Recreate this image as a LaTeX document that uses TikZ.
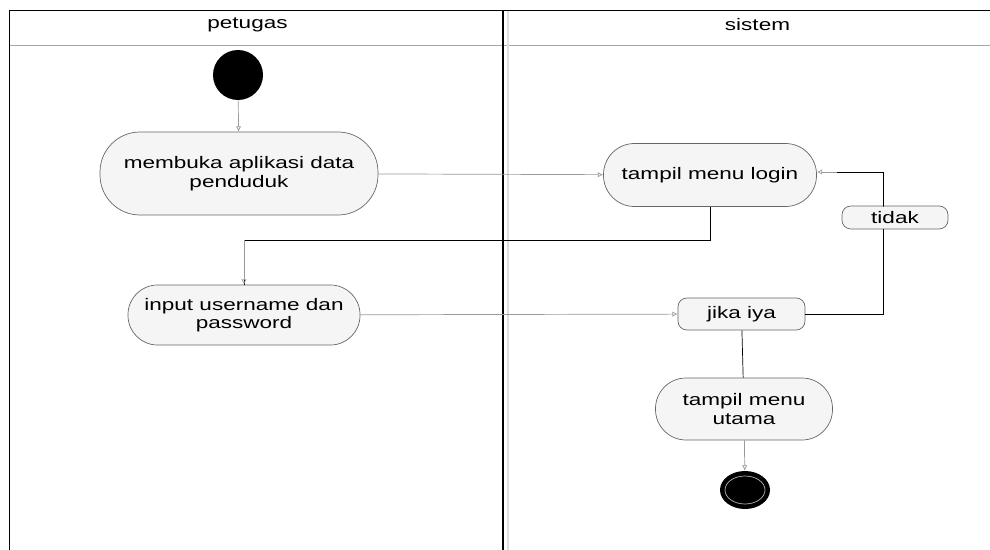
\documentclass[tikz,border=0pt]{standalone}
\usepackage{fontspec}
\setmainfont[FakeStretch=1.35]{Liberation Sans}
\usetikzlibrary{arrows.meta,shapes.geometric}

\begin{document}
\begin{tikzpicture}[font=\fontsize{9.5}{10.5}\selectfont,
        act/.style={draw=gray!80!black, fill=gray!8, align=center,
                        inner sep=2pt},
        dec/.style={draw=gray!80!black, fill=gray!8, rounded corners=5pt,
                        inner sep=0pt},
        ar/.style={draw=gray!80, -{Latex[length=3pt,width=3pt,open]}}]
    \useasboundingbox (0,0) rectangle (19.8,-11);
    % swimlanes
    \draw[gray!70] (0.18,-0.9) -- (19.8,-0.9);
    \draw[black] (0.18,-11) -- (0.18,-0.2) -- (19.8,-0.2);
    \draw[gray!25, line width=1pt] (10.16,-0.22) -- (10.16,-11);
    \draw[black, line width=1.3pt] (10.06,-0.2) -- (10.06,-11);
    \node (lp) at (4.95,-0.5) {petugas};
    \node (ls) at (15.15,-0.5) {sistem};

    % nodes
    \node[circle, fill=black, minimum size=1cm] (start) at (4.76,-1.5) {};
    \node[act, rounded corners=0.8cm, minimum width=5.56cm, minimum height=1.66cm]
        (buka) at (4.78,-3.47) {membuka aplikasi data\\penduduk};
    \node[act, rounded corners=0.62cm, minimum width=4.26cm, minimum height=1.26cm]
        (login) at (14.2,-3.5) {tampil menu login};
    \node[act, rounded corners=0.59cm, minimum width=4.64cm, minimum height=1.2cm]
        (input) at (4.88,-6.3) {input username dan\\password};
    \node[dec, minimum width=2.54cm, minimum height=0.64cm]
        (jika) at (14.83,-6.28) {jika iya};
    \node[dec, minimum width=2.12cm, minimum height=0.46cm]
        (tidak) at (17.9,-4.35) {tidak};
    \node[act, rounded corners=0.61cm, minimum width=3.54cm, minimum height=1.24cm]
        (utama) at (14.88,-8.18) {tampil menu\\utama};
    \node[ellipse, fill=black, minimum width=1cm, minimum height=0.76cm]
        (stop) at (14.9,-9.8) {};
    \node[ellipse, draw=gray!60, minimum width=0.8cm, minimum height=0.56cm]
        (stopin) at (stop) {};

    % flows
    \draw[ar] (start) -- (buka);
    \draw[ar] (buka) -- (login);
    \draw[black] (login.south) -- ++(0,-0.66) coordinate (k1) -| (input.north);
    \draw[ar] (k1 -| input.north) -- (input.north);
    \draw[ar] (input) -- (jika);
    \draw[black] (jika.east) -| ([xshift=-0.24cm]tidak.south);
    \draw[black] ([xshift=-0.24cm]tidak.north) -- ++(0,-0.02) |- ([xshift=0.1cm,yshift=0.06cm]login.east) coordinate (k2);
    \draw[ar] ([xshift=0.3cm]k2) -- (login.east |- k2);
    \draw[black] (jika) -- (utama);
    \draw[ar] (utama) -- (stop);
\end{tikzpicture}
\end{document}
